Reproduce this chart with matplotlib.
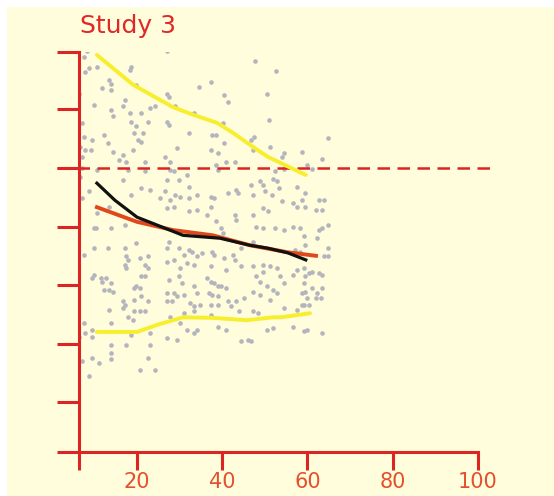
import numpy as np
import matplotlib.pyplot as plt
from matplotlib.patches import Rectangle

# scatter (age, score)
pts_x = [
    10.3, 11.5, 23.4, 8.3, 7.5, 8.7, 7.9, 10.7, 18.6, 18.3, 13.5, 13.9, 11.9, 13.9, 19.8, 6.3, 9.9, 17.1, 16.7, 13.9,
    18.3, 21.0, 23.0, 24.2, 7.1, 14.3, 18.6, 19.8, 22.6, 12.3, 7.5, 9.5, 19.4, 21.4, 20.2, 21.0, 13.1, 6.7, 7.9, 9.1,
    14.3, 16.7, 19.0, 7.1, 15.9, 17.5, 21.8, 7.1, 10.7, 17.9, 21.8, 6.7, 16.7, 21.0, 23.0, 8.7, 18.6, 7.1, 25.4,
    38.5, 40.9, 30.9, 32.9, 27.0, 34.5, 37.3, 40.5, 41.3, 27.0, 27.4, 29.0, 33.3, 27.0, 27.4, 32.1, 37.7, 38.5, 40.1, 40.5,
    29.4, 37.3, 38.9, 26.6, 40.9, 42.9, 27.8, 38.5, 27.8, 28.6, 38.9, 31.7, 27.0, 29.8, 32.1, 43.3, 26.6, 29.0, 30.2, 34.1,
    37.3, 38.1, 41.3, 43.7, 27.8, 32.1,
    49.6, 47.6, 52.6, 50.6, 51.0, 47.4, 64.7, 46.8, 51.3, 54.4, 54.0, 58.7, 47.2, 63.5, 59.9, 54.4, 61.1, 52.4, 52.0, 52.8,
    46.8, 49.6, 48.8, 57.5, 53.2, 50.0, 59.5, 47.2, 51.6, 54.0, 58.7, 62.7, 63.9, 56.7,
    10.7, 13.5, 21.0, 9.9, 10.3, 13.9, 17.1, 7.5, 9.9, 13.1, 17.1, 19.8, 17.5, 17.9, 17.1, 20.6, 22.6, 21.8, 17.5, 22.6,
    9.9, 9.5, 11.5, 11.9, 12.7, 13.9, 13.5, 12.3, 21.0, 21.8, 19.4, 20.6, 19.8, 14.3, 21.0, 16.7, 17.1, 19.4, 22.6, 16.7,
    13.5, 19.4, 20.6, 21.8, 17.9, 19.0, 13.9, 7.5, 9.5, 6.3, 7.9, 9.5, 18.6, 23.0, 17.5, 13.9, 23.0, 13.9, 7.1, 9.5,
    11.1, 13.9, 20.6, 24.2, 8.7, 22.6,
    27.0, 28.6, 32.1, 34.1, 36.5, 38.5, 42.9, 43.3, 37.3, 39.7, 40.1, 27.4, 27.0, 29.8, 31.0, 32.1, 32.9, 34.1, 35.3, 37.7,
    38.1, 40.5, 42.5, 42.9, 44.4, 27.0, 28.6, 30.2, 31.7, 33.3, 37.3, 40.9, 44.4, 27.4, 29.8, 30.6, 33.3, 36.5, 37.3, 38.1,
    38.9, 39.7, 40.9, 27.0, 28.6, 29.4, 31.0, 34.1, 36.9, 37.7, 38.9, 41.3, 43.3, 45.2, 27.0, 28.2, 32.5, 33.3, 34.9, 37.3,
    38.9, 42.1, 44.0, 31.0, 33.3, 27.8, 30.2, 31.7, 33.3, 34.1, 38.9, 40.9, 27.0, 29.4, 44.4, 46.0, 37.3,
    49.6, 50.8, 57.5, 59.5, 61.9, 63.5, 47.2, 48.0, 49.6, 52.4, 54.4, 56.7, 58.3, 59.1, 62.7, 63.5, 64.7, 62.3, 59.5, 47.2,
    64.7, 63.9, 64.7, 57.1, 58.3, 47.2, 49.6, 51.2, 52.8, 53.6, 54.4, 56.7, 57.5, 59.1, 60.3, 61.1, 62.7, 63.5, 48.0, 49.6,
    48.8, 50.4, 47.2, 48.8, 52.0, 52.8, 51.2, 59.5, 59.1, 59.5, 61.1, 62.3, 63.5, 58.7, 59.9, 61.9, 63.1, 47.2, 48.4, 54.4,
    57.5, 59.1, 60.3, 50.4, 52.0, 56.7, 59.1, 59.9, 63.5, 46.8, 58.7,
]
pts_y = [
    2.16, 2.16, 2.04, 1.99, 1.90, 1.70, 1.64, 1.73, 1.73, 1.67, 1.50, 1.44, 1.36, 1.33, 1.42, 1.27, 1.07, 1.16, 1.05, 0.99,
    0.93, 0.93, 1.02, 1.05, 0.76, 0.88, 0.79, 0.71, 0.79, 0.56, 0.53, 0.48, 0.59, 0.59, 0.48, 0.45, 0.42, 0.36, 0.31, 0.31,
    0.28, 0.22, 0.31, 0.19, 0.14, 0.11, 0.11, 0.00, -0.03, -0.03, -0.06, -0.15, -0.21, -0.35, -0.38, -0.40, -0.46, -0.52, -0.52,
    2.39, 2.31, 2.18, 2.09, 2.00, 1.39, 1.46, 1.25, 1.13, 1.27, 1.22, 1.05, 0.93, 0.79, 0.73, 0.59, 0.56, 0.56, 0.76, 0.42,
    0.34, 0.31, 0.25, 0.19, 0.11, 0.11, 0.11, 0.05, -0.03, -0.06, -0.03, -0.12, -0.21, -0.21, -0.32, -0.38, -0.40, -0.46, -0.49, -0.46,
    -0.49, -0.52, -0.43, -0.43, -0.55, -0.52,
    2.10, 1.83, 1.66, 1.26, 0.82, 0.53, 0.51, 0.48, 0.36, 0.25, 0.19, 0.28, 0.31, 0.16, 0.05, -0.01, -0.02, -0.06, -0.18, -0.23,
    -0.29, -0.29, -0.23, -0.32, -0.35, -0.40, -0.43, -0.46, -0.46, -0.57, -0.55, -0.55, -0.55, -0.60,
    -0.77, -0.66, -0.91, -1.02, -1.02, -1.02, -0.97, -1.48, -1.37, -1.37, -1.36, -1.28, -1.51, -1.57, -1.65, -1.54, -1.51, -1.65, -1.71, -1.71,
    -1.82, -1.88, -1.88, -1.94, -1.88, -1.97, -2.08, -2.08, -1.85, -1.85, -2.05, -2.05, -2.02, -2.11, -2.19, -2.28, -2.34, -2.25, -2.28, -2.39,
    -2.42, -2.45, -2.45, -2.45, -2.54, -2.59, -2.65, -2.65, -2.76, -2.88, -2.82, -2.88, -2.85, -2.82, -3.02, -3.02, -3.02, -3.16, -3.30, -3.25,
    -3.33, -3.27, -3.45, -3.45, -3.56, -3.25,
    -0.69, -0.66, -0.74, -0.72, -0.80, -0.91, -0.80, -0.89, -0.66, -1.03, -1.11, -1.26, -1.37, -1.37, -1.48, -1.40, -1.43, -1.51, -1.45, -1.43,
    -1.48, -1.54, -1.48, -1.57, -1.37, -1.60, -1.57, -1.71, -1.63, -1.65, -1.68, -1.74, -1.68, -1.91, -1.85, -1.97, -2.02, -1.88, -1.94, -1.97,
    -2.02, -2.02, -2.05, -2.14, -2.14, -2.19, -2.17, -2.14, -2.14, -2.17, -2.19, -2.28, -2.28, -2.22, -2.28, -2.28, -2.31, -2.36, -2.34, -2.34,
    -2.34, -2.36, -2.45, -2.48, -2.45, -2.54, -2.65, -2.76, -2.82, -2.76, -2.71, -2.76, -2.91, -2.93, -2.96, -2.93, -2.51,
    -0.69, -0.74, -0.66, -0.66, -0.72, -0.72, -0.80, -1.00, -1.03, -1.03, -1.06, -1.00, -1.03, -1.17, -1.06, -1.03, -0.97, -1.20, -1.31, -1.26,
    -1.37, -1.51, -1.51, -1.40, -1.43, -1.68, -1.65, -1.68, -1.71, -1.85, -1.97, -1.82, -1.74, -1.71, -1.80, -1.77, -1.80, -1.82, -1.85, -1.77,
    -1.94, -2.02, -2.11, -2.17, -2.08, -2.14, -2.25, -1.85, -1.97, -2.11, -2.05, -2.14, -2.05, -2.14, -2.22, -2.22, -2.22, -2.45, -2.48, -2.39,
    -2.42, -2.34, -2.34, -2.76, -2.73, -2.71, -2.79, -2.76, -2.82, -2.96, -2.34,
]

# smoothed curves
upper_x = [10.6, 19.1, 28.4, 33.1, 38.8, 42.5, 47.2, 50.7, 54.7, 59.6]
upper_y = [1.93, 1.42, 1.04, 0.91, 0.77, 0.60, 0.36, 0.19, 0.05, -0.12]
lower_x = [10.6, 20.0, 24.7, 30.8, 37.8, 45.8, 51.9, 53.8, 60.6]
lower_y = [-2.80, -2.80, -2.68, -2.55, -2.56, -2.60, -2.55, -2.55, -2.48]
black_x = [10.6, 14.8, 20.0, 30.8, 39.5, 46.5, 50.7, 55.4, 59.6]
black_y = [-0.26, -0.55, -0.84, -1.15, -1.20, -1.32, -1.37, -1.45, -1.57]
red_x = [10.6, 20.0, 28.4, 37.8, 46.5, 55.4, 62.0]
red_y = [-0.67, -0.92, -1.06, -1.15, -1.32, -1.44, -1.50]

xtick_vals = [6.4, 20, 40, 60, 80, 100]
xtick_labels = ['', '20', '40', '60', '80', '100']

bg = '#fffddb'
red = '#dc2424'

fig = plt.figure(figsize=(5.54, 4.96), dpi=100)
fig.patch.set_facecolor('white')
fig.add_artist(Rectangle((7 / 554, 0), 1, 1 - 7 / 496, transform=fig.transFigure,
                         facecolor=bg, edgecolor='none', zorder=-10))

ax = fig.add_axes([79 / 554, 44 / 496, 399 / 554, 400 / 496])
ax.patch.set_alpha(0)

ax.scatter(pts_x, pts_y, s=11, color='#b4b4be', linewidths=0, zorder=2)

ax.plot([1.2, 104], [0, 0], color=red, lw=1.8, dashes=(5, 3), clip_on=False, zorder=3)
ax.plot(upper_x, upper_y, color='#f7ef2e', lw=2.8, solid_capstyle='round', zorder=4)
ax.plot(lower_x, lower_y, color='#f7ef2e', lw=2.8, solid_capstyle='round', zorder=4)
ax.plot(red_x, red_y, color='#e0481c', lw=2.8, zorder=5)
ax.plot(black_x, black_y, color='#111111', lw=2.3, zorder=6)

ax.set_xlim(6.4, 100)
ax.set_ylim(-4.85, 1.98)
ax.set_xticks(xtick_vals)
ax.set_xticklabels(xtick_labels)
ax.set_yticks([-4.85, -4, -3, -2, -1, 0, 1, 1.98])
ax.set_yticklabels([])

for s in ['top', 'right']:
    ax.spines[s].set_visible(False)
for s in ['left', 'bottom']:
    ax.spines[s].set_color(red)
    ax.spines[s].set_linewidth(2.2)
ax.tick_params(axis='y', direction='out', length=16, width=2.2, color=red)
ax.tick_params(axis='x', direction='out', length=13, width=2.2, color=red,
               labelcolor='#e4502e', labelsize=15, pad=1.5)

fig.text(80 / 554, 1 - 33 / 496, 'Study 3', color='#e02828', fontsize=18, va='baseline')

fig.savefig('out.png', dpi=100)
